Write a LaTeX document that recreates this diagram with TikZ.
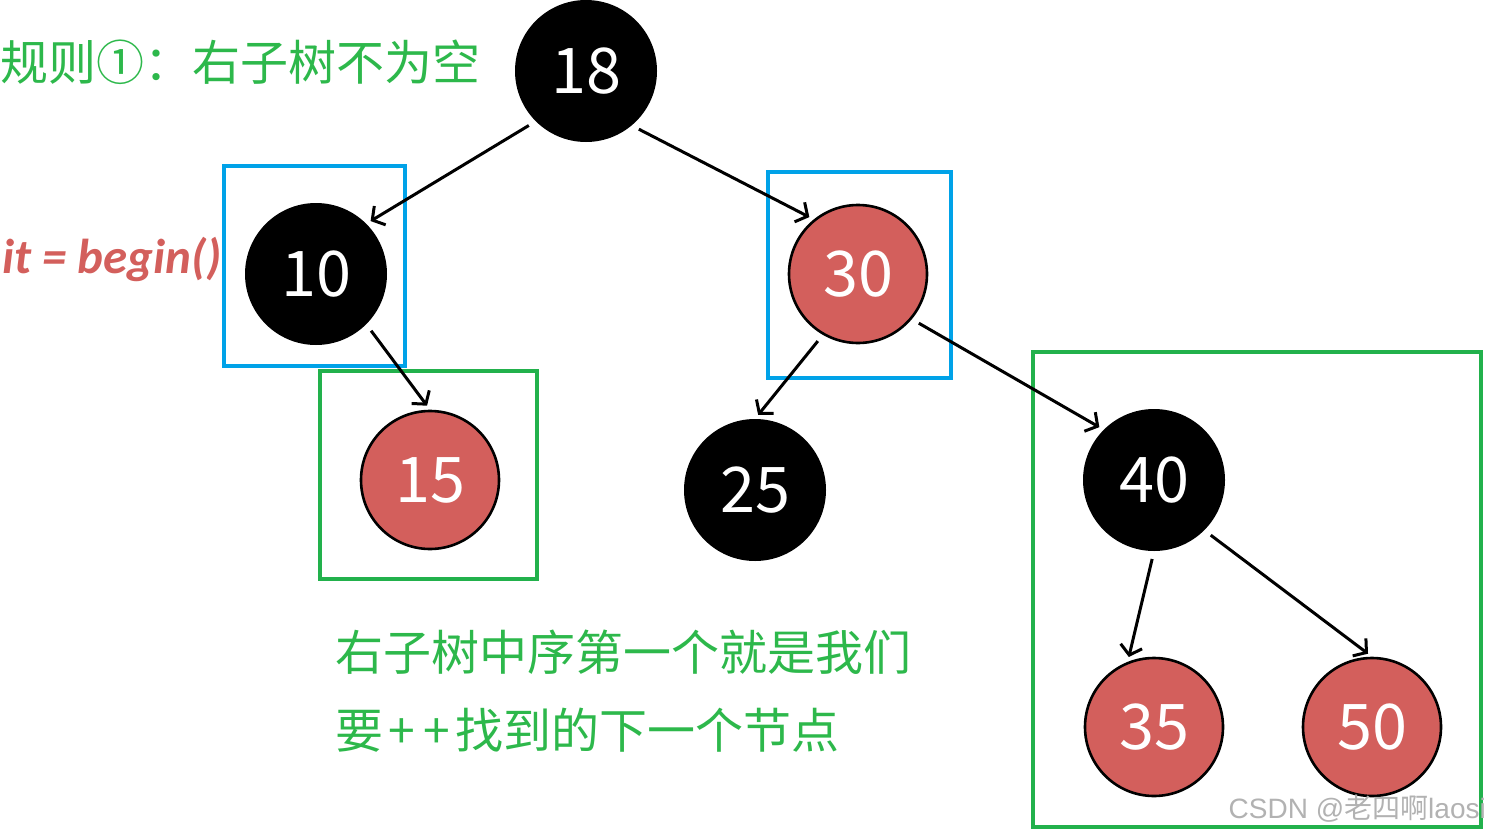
\documentclass[tikz,border=0pt]{standalone}
\usepackage{fontspec}
\usetikzlibrary{arrows.meta}
\newfontfamily\cjk{Noto Sans CJK SC}
\newfontfamily\calib{Carlito}
\newfontfamily\wmfont{Liberation Sans}
\definecolor{nodered}{HTML}{D35F5C}
\definecolor{boxblue}{HTML}{00A2E8}
\definecolor{boxgreen}{HTML}{22B14C}
\definecolor{notegreen}{HTML}{2DB84B}

\begin{document}
\begin{tikzpicture}[x=1pt,y=-1pt,
  every node/.style={inner sep=0pt},
  blackv/.style={circle,fill=black,minimum size=142pt,text=white,font=\cjk\fontsize{63}{63}\selectfont},
  redv/.style={circle,draw=black,line width=2.6pt,fill=nodered,minimum size=138pt,text=white,font=\cjk\fontsize{63}{63}\selectfont},
  edge/.style={line width=3pt,-{Straight Barb[length=9pt,width=22pt]},shorten <=8pt,shorten >=5pt},
  bluebox/.style={draw=boxblue,line width=4pt},
  greenbox/.style={draw=boxgreen,line width=4pt},
  note/.style={text=notegreen,anchor=west,font=\cjk\fontsize{48}{48}\selectfont}
]
  \useasboundingbox (0,0) rectangle (1489,835);

  % boxes
  \draw[bluebox] (224,166) rectangle (405,366);
  \draw[bluebox] (768,172) rectangle (951,378);
  \draw[greenbox] (320,371) rectangle (537,579);
  \draw[greenbox] (1033,352) rectangle (1481,827);

  % tree
  \node[blackv] (n18) at (586,71) {18};
  \node[blackv] (n10) at (316,274) {10};
  \node[redv] (n30) at (858,274) {30};
  \node[redv] (n15) at (430,480) {15};
  \node[blackv] (n25) at (755,490) {25};
  \node[blackv] (n40) at (1154,480) {40};
  \node[redv] (n35) at (1154,727) {35};
  \node[redv] (n50) at (1372,727) {50};

  \draw[edge] (n18.south west) -- (n10.north east);
  \draw[edge] (n18.-50) -- (n30.129);
  \draw[edge] (n10.south east) -- (n15.north);
  \draw[edge] (n30.-120) -- (n25.north);
  \draw[edge] (n30.-40) -- (n40.north west);
  \draw[edge] (n40.south) -- (n35.112);
  \draw[edge] (n40.south east) -- (n50.north);

  % texts
  \node[note] (rule) at (0,62) {规则①：右子树不为空};
  \node[text=nodered,anchor=base west,font=\calib\bfseries\itshape\fontsize{49}{49}\selectfont] (it) at (2,273) {it = begin()};
  \node[note] (line1) at (335,652) {右子树中序第一个就是我们};
  \node[note] (line2) at (335,730) {要\hspace{5pt}+\hspace{9pt}+\hspace{5pt}找到的下一个节点};
  \node[text=black!30,anchor=base east,font=\wmfont\fontsize{28}{28}\selectfont] (mark) at (1486,818) {CSDN @{\cjk 老四啊}laosi};
\end{tikzpicture}
\end{document}
